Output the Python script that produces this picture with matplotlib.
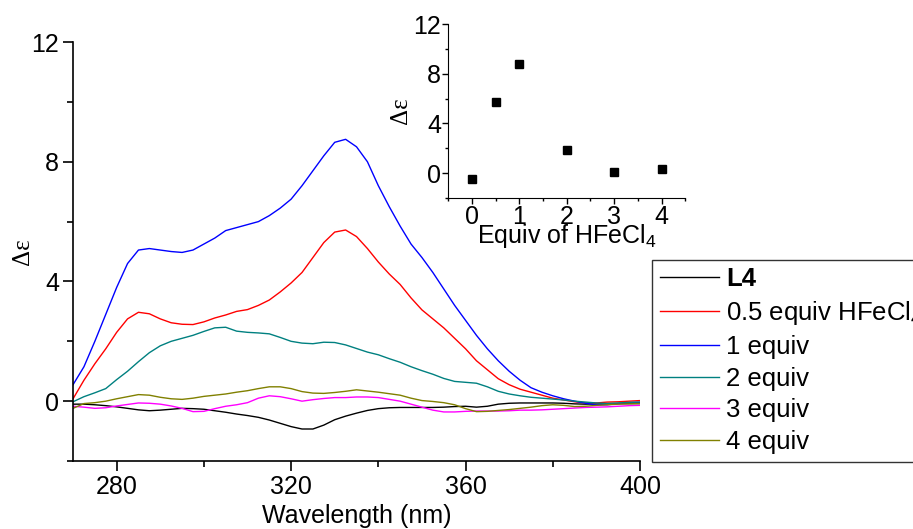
import numpy as np
import matplotlib
matplotlib.use('Agg')
import matplotlib.pyplot as plt
from matplotlib.ticker import MultipleLocator

plt.rcParams['font.family'] = ['Liberation Sans', 'DejaVu Sans']
plt.rcParams['mathtext.fontset'] = 'custom'
plt.rcParams['mathtext.rm'] = 'Liberation Sans'

# CD spectra, 2.5 nm steps from 270 to 400 nm
wavelength = np.arange(270, 400.1, 2.5)

cd_L4 = [-0.10, -0.10, -0.12, -0.15, -0.19, -0.24, -0.29, -0.32, -0.30, -0.27,
         -0.24, -0.25, -0.27, -0.32, -0.37, -0.43, -0.48, -0.54, -0.63, -0.74,
         -0.85, -0.93, -0.93, -0.80, -0.62, -0.50, -0.40, -0.31, -0.25, -0.22,
         -0.21, -0.21, -0.21, -0.21, -0.20, -0.18, -0.17, -0.20, -0.17, -0.10,
         -0.07, -0.06, -0.06, -0.06, -0.06, -0.07, -0.09, -0.10, -0.09, -0.08,
         -0.08, -0.08, -0.08]
cd_05eq = [0.08, 0.70, 1.25, 1.75, 2.30, 2.75, 2.97, 2.92, 2.75, 2.62,
           2.57, 2.56, 2.65, 2.78, 2.88, 3.00, 3.06, 3.20, 3.38, 3.65,
           3.95, 4.30, 4.80, 5.30, 5.65, 5.72, 5.50, 5.10, 4.65, 4.25,
           3.90, 3.45, 3.05, 2.75, 2.45, 2.10, 1.75, 1.35, 1.05, 0.75,
           0.55, 0.40, 0.30, 0.20, 0.10, 0.04, -0.02, -0.06, -0.06, -0.03,
           -0.02, 0.00, 0.02]
cd_1eq = [0.55, 1.15, 2.00, 2.90, 3.80, 4.60, 5.05, 5.10, 5.05, 5.00,
          4.97, 5.05, 5.25, 5.45, 5.70, 5.80, 5.90, 6.00, 6.20, 6.45,
          6.75, 7.20, 7.70, 8.20, 8.65, 8.75, 8.50, 8.00, 7.20, 6.50,
          5.85, 5.25, 4.80, 4.30, 3.75, 3.20, 2.70, 2.20, 1.75, 1.35,
          1.00, 0.70, 0.45, 0.30, 0.18, 0.08, 0.00, -0.07, -0.12, -0.12,
          -0.08, -0.05, -0.04]
cd_2eq = [-0.02, 0.15, 0.28, 0.42, 0.72, 1.00, 1.32, 1.62, 1.85, 2.00,
          2.10, 2.20, 2.33, 2.45, 2.47, 2.34, 2.30, 2.28, 2.25, 2.13,
          2.00, 1.94, 1.92, 1.97, 1.96, 1.88, 1.76, 1.64, 1.55, 1.42,
          1.30, 1.15, 1.02, 0.90, 0.76, 0.66, 0.63, 0.60, 0.48, 0.33,
          0.24, 0.18, 0.13, 0.10, 0.07, 0.04, 0.00, -0.03, -0.06, -0.08,
          -0.06, -0.04, -0.03]
cd_3eq = [-0.17, -0.20, -0.24, -0.22, -0.16, -0.11, -0.06, -0.07, -0.10, -0.16,
          -0.24, -0.35, -0.34, -0.25, -0.17, -0.12, -0.05, 0.10, 0.18, 0.15,
          0.08, 0.00, 0.05, 0.09, 0.12, 0.12, 0.14, 0.14, 0.12, 0.06,
          0.00, -0.10, -0.20, -0.30, -0.36, -0.36, -0.34, -0.33, -0.33, -0.33,
          -0.32, -0.30, -0.30, -0.29, -0.27, -0.25, -0.23, -0.21, -0.20, -0.19,
          -0.17, -0.15, -0.14]
cd_4eq = [-0.24, -0.08, -0.05, 0.00, 0.08, 0.15, 0.22, 0.20, 0.13, 0.08,
          0.06, 0.10, 0.16, 0.20, 0.24, 0.30, 0.35, 0.42, 0.48, 0.48,
          0.42, 0.32, 0.27, 0.26, 0.29, 0.33, 0.38, 0.34, 0.30, 0.25,
          0.20, 0.10, 0.02, -0.01, -0.05, -0.12, -0.25, -0.35, -0.34, -0.31,
          -0.28, -0.24, -0.20, -0.15, -0.12, -0.14, -0.18, -0.17, -0.14, -0.12,
          -0.10, -0.09, -0.08]

series = [cd_L4, cd_05eq, cd_1eq, cd_2eq, cd_3eq, cd_4eq]
labels = ['L4', r'0.5 equiv HFeCl$_4$', '1 equiv', '2 equiv', '3 equiv', '4 equiv']
colors = ['black', '#ff0000', '#0000ff', '#008080', '#ff00ff', '#808000']

# titration: delta epsilon at ~331 nm vs equivalents
equiv = [0, 0.5, 1, 2, 3, 4]
delta_eps = [-0.5, 5.76, 8.8, 1.9, 0.1, 0.3]

fs = 18
fig = plt.figure(figsize=(9.13, 5.29), dpi=100)

ax = fig.add_axes([0.080, 0.1285, 0.621, 0.792])
for y, lab, c in zip(series, labels, colors):
    ax.plot(wavelength, y, color=c, lw=1.0, label=lab)

ax.set_xlim(270, 400)
ax.set_ylim(-2, 12)
ax.xaxis.set_minor_locator(MultipleLocator(20))
ax.yaxis.set_major_locator(MultipleLocator(4))
ax.yaxis.set_minor_locator(MultipleLocator(2))
ax.set_xticks([280, 320, 360, 400])
for s in ['top', 'right']:
    ax.spines[s].set_visible(False)
for s in ['left', 'bottom']:
    ax.spines[s].set_linewidth(1.2)
ax.tick_params(which='major', direction='out', length=7, width=1.2, labelsize=fs, pad=3)
ax.tick_params(which='minor', direction='out', length=4, width=1.2)
ax.set_xlabel('Wavelength (nm)', fontsize=fs, labelpad=3.5)
ax.set_ylabel('Δε', fontsize=fs, family='Liberation Serif', labelpad=-2)

leg = fig.legend(loc='upper left', bbox_to_anchor=(0.714, 0.509), fontsize=18.5,
                 frameon=True, fancybox=False, edgecolor='#333333', framealpha=1,
                 handlelength=2.3, handletextpad=0.3, labelspacing=0.3,
                 borderpad=0.3, borderaxespad=0)
leg.get_frame().set_linewidth(1.0)
leg.get_texts()[0].set_fontweight('bold')

# inset with titration points
axin = fig.add_axes([0.491, 0.6257, 0.2596, 0.3289])
axin.plot(equiv, delta_eps, 's', color='black', ms=5.5)
axin.set_xlim(-0.5, 4.5)
axin.set_ylim(-2, 12)
axin.xaxis.set_major_locator(MultipleLocator(1))
axin.xaxis.set_minor_locator(MultipleLocator(0.5))
axin.yaxis.set_major_locator(MultipleLocator(4))
axin.yaxis.set_minor_locator(MultipleLocator(2))
for s in ['top', 'right']:
    axin.spines[s].set_visible(False)
axin.tick_params(which='major', direction='out', length=4, width=1.0, labelsize=fs, pad=1)
axin.tick_params(which='minor', direction='out', length=2.5, width=1.0)
axin.set_xlabel(r'Equiv of HFeCl$_4$', fontsize=fs, labelpad=-5)
axin.set_ylabel('Δε', fontsize=fs, family='Liberation Serif', labelpad=1)

fig.savefig('out.png', dpi=100)
